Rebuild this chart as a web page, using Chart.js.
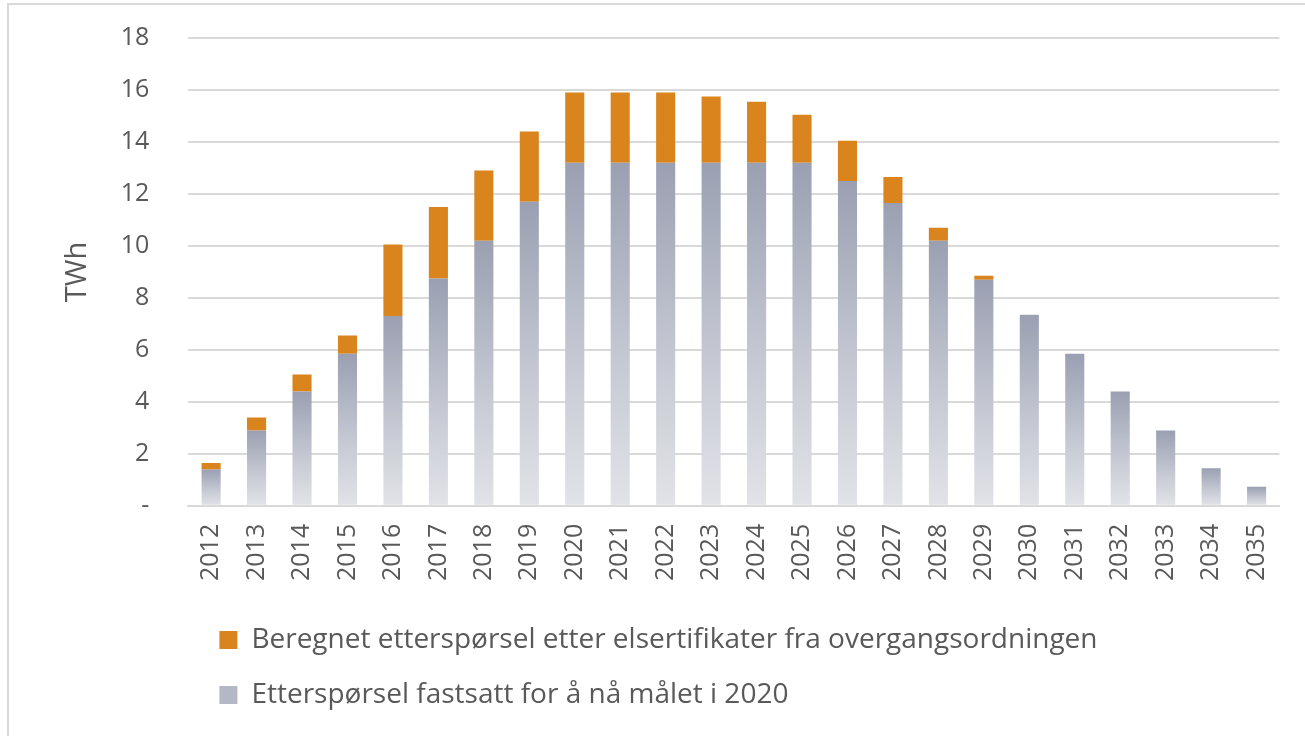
<!DOCTYPE html>
<html>
<head>
<meta charset="utf-8">
<script src="https://cdn.jsdelivr.net/npm/chart.js@4/dist/chart.umd.min.js"></script>
<style>
  html, body { margin: 0; padding: 0; background: #fff; }
  #wrap {
    position: relative;
    box-sizing: border-box;
    border-left: 2px solid #d9d9d9;
    border-top: 2px solid #d9d9d9;
    margin: 3px 0 0 7px;
    width: 1298px;
    height: 733px;
  }
</style>
</head>
<body>
<div id="wrap"><canvas id="chart"></canvas></div>
<script>
const years = ['2012', '2013', '2014', '2015', '2016', '2017', '2018', '2019', '2020', '2021', '2022', '2023',
  '2024', '2025', '2026', '2027', '2028', '2029', '2030', '2031', '2032', '2033', '2034', '2035']

// grunnetterspørsel (grå)
const fastsatt = [1.4, 2.9, 4.4, 5.85, 7.3, 8.75, 10.2, 11.7, 13.2, 13.2, 13.2, 13.2,
  13.2, 13.2, 12.5, 11.65, 10.2, 8.7, 7.35, 5.85, 4.4, 2.9, 1.45, 0.73]

// tillegg fra overgangsordningen (oransje)
const overgang = [0.25, 0.5, 0.65, 0.7, 2.75, 2.75, 2.7, 2.7, 2.7, 2.7, 2.7, 2.55,
  2.35, 1.85, 1.55, 1.0, 0.5, 0.15, 0, 0, 0, 0, 0, 0]

const yTicks = [0, 2, 4, 6, 8, 10, 12, 14, 16, 18]

const textColor = '#595959'
const font = "'Open Sans', sans-serif"

function grayFill(ctx) {
  const chart = ctx.chart
  const y = chart.scales.y
  if (ctx.dataIndex === undefined || !y || !chart.chartArea) return '#b4b8c6'
  const v = ctx.dataset.data[ctx.dataIndex]
  const top = y.getPixelForValue(v)
  const base = y.getPixelForValue(0)
  if (!isFinite(top) || top === base) return '#b4b8c6'
  const g = chart.ctx.createLinearGradient(0, top, 0, base)
  g.addColorStop(0, '#9aa0b2')
  g.addColorStop(0.55, '#c4c7d2')
  g.addColorStop(1, '#e2e3e8')
  return g
}

// legenden står litt inn fra plottkanten
const legendShift = {
  id: 'legendShift',
  afterLayout: chart => { chart.legend.left += 4 }
}

const ctx = document.getElementById('chart')
/* eslint-disable no-new */
new Chart(ctx, {
  type: 'bar',
  data: {
    labels: years,
    datasets: [
      {
        label: 'Etterspørsel fastsatt for å nå målet i 2020',
        data: fastsatt,
        backgroundColor: grayFill,
        borderWidth: 0
      },
      {
        label: 'Beregnet etterspørsel etter elsertifikater fra overgangsordningen',
        data: overgang,
        backgroundColor: '#d9841d',
        borderWidth: 0
      }
    ]
  },
  plugins: [legendShift],
  options: {
    responsive: true,
    maintainAspectRatio: false,
    animation: false,
    categoryPercentage: 1,
    barPercentage: 0.42,
    layout: { padding: { left: 51, right: 20, top: 33, bottom: 17 } },
    plugins: {
      tooltip: { enabled: false },
      legend: {
        position: 'bottom',
        align: 'start',
        fullSize: false,
        reverse: true,
        labels: {
          boxWidth: 18,
          boxHeight: 18,
          padding: 27,
          color: textColor,
          font: { family: font, size: 28 },
          generateLabels: chart => {
            const items = Chart.defaults.plugins.legend.labels.generateLabels(chart)
            items.forEach(it => {
              if (it.datasetIndex === 0) it.fillStyle = '#b4b8c6'
            })
            return items
          }
        }
      }
    },
    scales: {
      x: {
        stacked: true,
        grid: { display: false, drawTicks: false },
        border: { display: true, color: '#d9d9d9', width: 2 },
        ticks: {
          color: textColor,
          font: { family: font, size: 25 },
          minRotation: 90,
          maxRotation: 90,
          padding: 18,
          autoSkip: false
        }
      },
      y: {
        stacked: true,
        min: 0,
        max: 18,
        afterBuildTicks: axis => { axis.ticks = yTicks.map(v => ({ value: v })) },
        afterFit: axis => {
          axis.paddingTop = 0
          axis.paddingBottom = 0
        },
        grid: { color: '#d9d9d9', lineWidth: 2, drawTicks: false },
        border: { display: false },
        ticks: {
          color: textColor,
          font: { family: font, size: 25 },
          padding: 39,
          callback: v => (v === 0 ? '-' : v)
        },
        title: {
          display: true,
          text: 'TWh',
          color: textColor,
          font: { family: font, size: 29 },
          padding: { top: 0, bottom: -13 }
        }
      }
    }
  }
})
</script>
</body>
</html>
